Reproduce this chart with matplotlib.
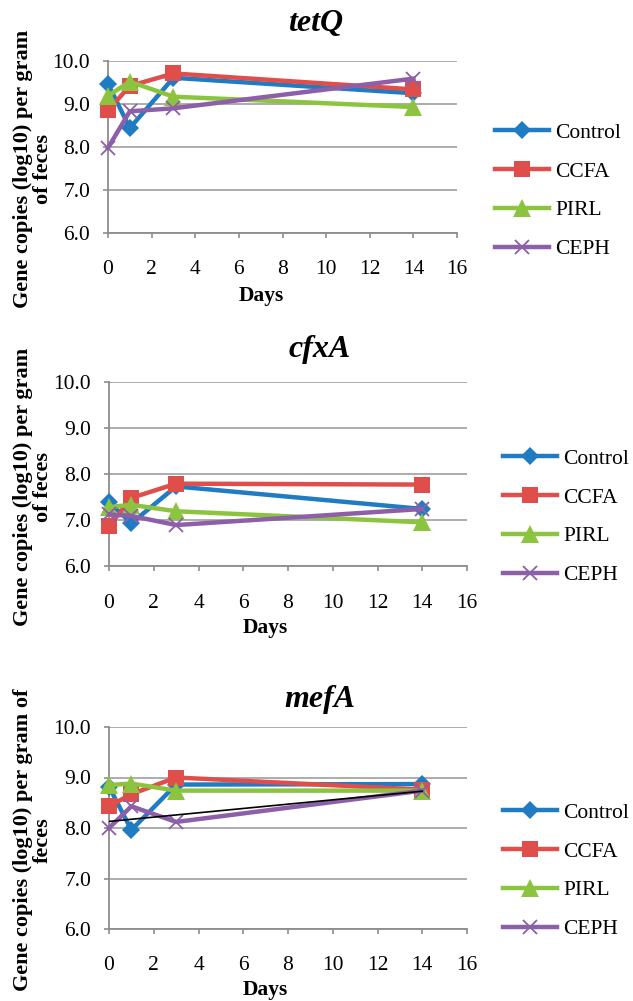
import matplotlib
matplotlib.use("Agg")
import matplotlib.pyplot as plt
import numpy as np

plt.rcParams["font.family"] = ["Liberation Serif", "DejaVu Serif"]

W, H = 633, 1001

DAYS = [0, 1, 3, 14]
SERIES = ["Control", "CCFA", "PIRL", "CEPH"]
GENES = ["tetQ", "cfxA", "mefA"]

# log10 gene copies per gram of feces
tetq_control = [9.47, 8.44, 9.61, 9.25]
tetq_ccfa = [8.85, 9.42, 9.71, 9.34]
tetq_pirl = [9.19, 9.52, 9.17, 8.93]
tetq_ceph = [7.98, 8.83, 8.90, 9.59]

cfxa_control = [7.39, 6.93, 7.73, 7.24]
cfxa_ccfa = [6.86, 7.48, 7.79, 7.77]
cfxa_pirl = [7.28, 7.33, 7.19, 6.95]
cfxa_ceph = [7.12, 7.09, 6.89, 7.24]

mefa_control = [8.82, 7.96, 8.86, 8.87]
mefa_ccfa = [8.43, 8.67, 9.00, 8.76]
mefa_pirl = [8.85, 8.88, 8.74, 8.74]
mefa_ceph = [8.00, 8.43, 8.12, 8.74]

YLABELS = [
    "Gene copies (log10) per gram\nof feces",
    "Gene copies (log10) per gram\nof feces",
    "Gene copies (log10) per gram of\nfeces",
]

COLORS = ["#1f7bc2", "#e04e4b", "#8cc43f", "#8d5fa8"]
MARKERS = ["D", "s", "^", "x"]
MSIZE = [9, 12, 13, 10]

# pixel layout: axes box (left, top, right, bottom), title, ylabel, days, legend
PANELS = [
    dict(box=(108, 61, 457, 233), title=(316, 23), ylab=(33, 169), days=(261, 296), leg=(495, 191)),
    dict(box=(109, 382, 467, 566), title=(320, 350), ylab=(33, 487), days=(265, 628), leg=(503, 517)),
    dict(box=(109, 727, 467, 929), title=(320, 700), ylab=(33, 840), days=(265, 990), leg=(503, 871)),
]

GRID = "#a6a6a6"
AXIS = "#8c8c8c"


def fx(px):
    return px / W


def fy(py):
    return 1 - py / H


fig = plt.figure(figsize=(W / 100, H / 100), dpi=100)

data = [
    [tetq_control, tetq_ccfa, tetq_pirl, tetq_ceph],
    [cfxa_control, cfxa_ccfa, cfxa_pirl, cfxa_ceph],
    [mefa_control, mefa_ccfa, mefa_pirl, mefa_ceph],
]

for gene, series_vals, lay, ylab in zip(GENES, data, PANELS, YLABELS):
    l, t, r, b = lay["box"]
    ax = fig.add_axes([fx(l), fy(b), fx(r) - fx(l), (b - t) / H])
    handles = []
    for si, vals in enumerate(series_vals):
        mew = 1.3 if MARKERS[si] == "x" else 0
        (h,) = ax.plot(
            DAYS, vals,
            color=COLORS[si], lw=3.2,
            marker=MARKERS[si], ms=MSIZE[si],
            mfc=COLORS[si], mec=COLORS[si], mew=mew,
            clip_on=False, zorder=3 + si,
        )
        handles.append(h)
    if gene == "mefA":
        # linear trendline through CEPH
        k, c = np.polyfit(DAYS, mefa_ceph, 1)
        xs = np.array([DAYS[0], DAYS[-1]])
        ax.plot(xs, k * xs + c, color="black", lw=1.2, zorder=10)

    ax.set_xlim(0, 16)
    ax.set_ylim(6, 10)
    ax.set_xticks(np.arange(0, 17, 2))
    ax.set_yticks(np.arange(6, 10.1, 1))
    ax.set_yticklabels([f"{v:.1f}" for v in np.arange(6, 10.1, 1)])
    ax.grid(axis="y", color=GRID, lw=1.3)
    ax.set_axisbelow(True)
    for s in ("top", "right"):
        ax.spines[s].set_visible(False)
    for s in ("left", "bottom"):
        ax.spines[s].set_color(AXIS)
        ax.spines[s].set_linewidth(1.3)
    ax.tick_params(axis="x", direction="out", length=3.8, width=1.2, color=AXIS,
                   pad=16, labelsize=15.5)
    ax.tick_params(axis="y", direction="out", length=3.8, width=1.2, color=AXIS,
                   pad=9, labelsize=15.5)

    fig.text(fx(lay["title"][0]), fy(lay["title"][1]), gene, ha="center", va="center",
             fontsize=23, fontweight="bold", fontstyle="italic")
    fig.text(fx(lay["ylab"][0]), fy(lay["ylab"][1]), ylab, ha="center", va="center",
             rotation=90, multialignment="center", linespacing=1.0,
             fontsize=16, fontweight="bold")
    fig.text(fx(lay["days"][0]), fy(lay["days"][1]), "Days", ha="center", va="center",
             fontsize=15.5, fontweight="bold")

    ax.legend(handles, SERIES, loc="center left",
              bbox_to_anchor=(fx(lay["leg"][0]), fy(lay["leg"][1])),
              bbox_transform=fig.transFigure, frameon=False,
              handlelength=2.5, handletextpad=0.3, labelspacing=0.87,
              borderpad=0, borderaxespad=0, fontsize=15.5)

fig.savefig("out.png", dpi=100)
